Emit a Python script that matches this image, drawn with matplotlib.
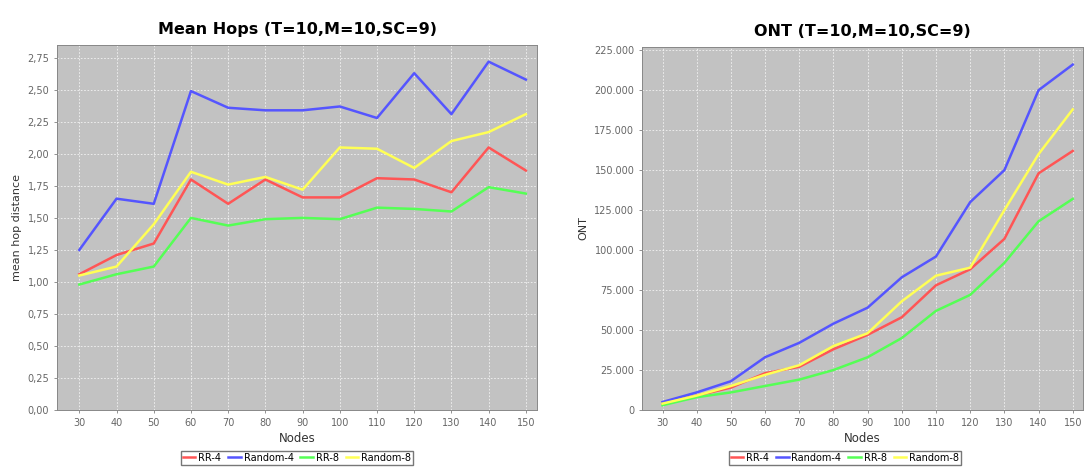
import matplotlib
matplotlib.use('Agg')
import matplotlib.pyplot as plt
from matplotlib.ticker import FuncFormatter

nodes = [30, 40, 50, 60, 70, 80, 90, 100, 110, 120, 130, 140, 150]
series_names = ['RR-4', 'Random-4', 'RR-8', 'Random-8']
colors = ['#ff5555', '#5555ff', '#55ff55', '#ffff55']

# mean hops
hops_rr4 = [1.06, 1.21, 1.30, 1.80, 1.61, 1.80, 1.66, 1.66, 1.81, 1.80, 1.70, 2.05, 1.87]
hops_rand4 = [1.25, 1.65, 1.61, 2.49, 2.36, 2.34, 2.34, 2.37, 2.28, 2.63, 2.31, 2.72, 2.58]
hops_rr8 = [0.98, 1.06, 1.12, 1.50, 1.44, 1.49, 1.50, 1.49, 1.58, 1.57, 1.55, 1.74, 1.69]
hops_rand8 = [1.05, 1.12, 1.45, 1.86, 1.76, 1.82, 1.72, 2.05, 2.04, 1.89, 2.10, 2.17, 2.31]

# ONT
ont_rr4 = [4000, 9000, 14000, 23000, 27000, 38000, 47000, 58000, 78000, 88000, 107000, 148000, 162000]
ont_rand4 = [5000, 11000, 18000, 33000, 42000, 54000, 64000, 83000, 96000, 130000, 150000, 200000, 216000]
ont_rr8 = [3000, 8000, 11000, 15000, 19000, 25000, 33000, 45000, 62000, 72000, 92000, 118000, 132000]
ont_rand8 = [4000, 9000, 15000, 22000, 28000, 40000, 48000, 68000, 84000, 89000, 125000, 160000, 188000]

hops_ticks = [0, 0.25, 0.5, 0.75, 1.0, 1.25, 1.5, 1.75, 2.0, 2.25, 2.5, 2.75]
ont_ticks = [0, 25000, 50000, 75000, 100000, 125000, 150000, 175000, 200000, 225000]

fig = plt.figure(figsize=(10.87, 4.67), dpi=100)
ax1 = fig.add_axes([57/1087, 57/467, 480/1087, 365/467])
ax2 = fig.add_axes([642/1087, 57/467, 441/1087, 363/467])


def style(ax, title, ylabel):
  ax.set_facecolor('#c2c2c2')
  ax.set_title(title, fontsize=11.5, fontweight='bold', pad=8)
  ax.set_xlabel('Nodes', fontsize=8.5, color='#333333', labelpad=3)
  ax.set_ylabel(ylabel, fontsize=8, color='#333333')
  ax.grid(True, color='white', linestyle=(0, (2, 2)), linewidth=0.6, alpha=0.8)
  ax.set_axisbelow(True)
  ax.set_xticks(nodes)
  ax.tick_params(labelsize=7, colors='#666666', length=2, width=0.5)
  for sp in ax.spines.values():
    sp.set_color('#888888')
    sp.set_linewidth(0.7)


def legend(ax, xc):
  ax.legend(loc='upper center', bbox_to_anchor=(xc, -0.112), ncol=4, fontsize=7,
            frameon=True, fancybox=False, edgecolor='#555555', handlelength=1.3,
            columnspacing=0.7, handletextpad=0.3, borderpad=0.2, borderaxespad=0)


style(ax1, 'Mean Hops (T=10,M=10,SC=9)', 'mean hop distance')
for vals, name, c in zip([hops_rr4, hops_rand4, hops_rr8, hops_rand8], series_names, colors):
  ax1.plot(nodes, vals, color=c, linewidth=1.8, label=name)
ax1.set_xlim(24, 153)
ax1.set_ylim(0, 2.85)
ax1.set_yticks(hops_ticks)
ax1.yaxis.set_major_formatter(FuncFormatter(lambda v, p: ('%.2f' % v).replace('.', ',')))
legend(ax1, 0.5)

style(ax2, 'ONT (T=10,M=10,SC=9)', 'ONT')
for vals, name, c in zip([ont_rr4, ont_rand4, ont_rr8, ont_rand8], series_names, colors):
  ax2.plot(nodes, vals, color=c, linewidth=1.8, label=name)
ax2.set_xlim(24, 153)
ax2.set_ylim(0, 227000)
ax2.set_yticks(ont_ticks)
ax2.yaxis.set_major_formatter(FuncFormatter(lambda v, p: '{:,}'.format(int(v)).replace(',', '.')))
legend(ax2, 0.46)

fig.savefig('out.png', dpi=100)
